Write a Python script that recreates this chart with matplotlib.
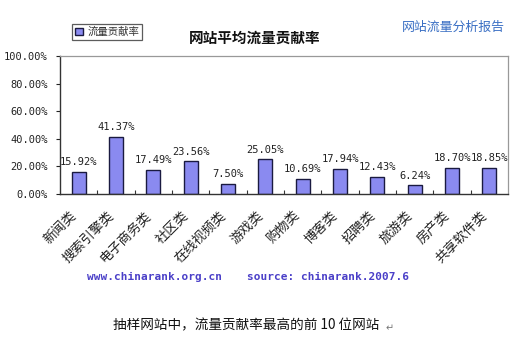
import matplotlib
matplotlib.use("Agg")
import matplotlib.pyplot as plt
import matplotlib.transforms as mtransforms
from matplotlib.patches import Patch

plt.rcParams['font.family'] = ['Noto Sans CJK SC', 'DejaVu Sans']

categories = ["新闻类", "搜索引擎类", "电子商务类", "社区类", "在线视频类", "游戏类",
              "购物类", "博客类", "招聘类", "旅游类", "房产类", "共享软件类"]
values = [15.92, 41.37, 17.49, 23.56, 7.50, 25.05, 10.69, 17.94, 12.43, 6.24, 18.70, 18.85]
y_ticks = [0, 20, 40, 60, 80, 100]

bar_color = "#8a8af0"
edge_color = "#1a1a40"
mono = ['DejaVu Sans Mono', 'Noto Sans CJK SC']

fig = plt.figure(figsize=(5.32, 3.45), dpi=100)
ax = fig.add_axes([60 / 532, 1 - 194 / 345, (508 - 60) / 532, (194 - 56) / 345])

x = list(range(len(categories)))
bars = ax.bar(x, values, width=0.38, color=bar_color, edgecolor=edge_color, linewidth=1.0)

ax.set_xlim(-0.5, len(categories) - 0.5)
ax.set_ylim(0, 100)
ax.set_yticks(y_ticks)
ax.set_yticklabels([f"{v:.2f}%" for v in y_ticks], family=mono, fontsize=7.5)
ax.tick_params(axis='y', direction='out', length=3, width=0.8, pad=6, colors='#222222')

# category tick marks sit between bars, pointing inward
ax.set_xticks([i + 0.5 for i in x[:-1]], minor=True)
ax.set_xticks(x)
ax.set_xticklabels(categories, rotation=45, ha='right', rotation_mode='anchor',
                   fontsize=9.5, color='#222222')
ax.tick_params(axis='x', which='major', length=0, pad=11)
ax.tick_params(axis='x', which='minor', direction='in', length=3, width=0.8, color='#333333')
shift = mtransforms.ScaledTranslation(-9 / 100, 0, fig.dpi_scale_trans)
for lbl in ax.get_xticklabels():
    lbl.set_transform(lbl.get_transform() + shift)

for side in ('top', 'right'):
    ax.spines[side].set_color('#999999')
    ax.spines[side].set_linewidth(0.9)
for side in ('left', 'bottom'):
    ax.spines[side].set_color('#333333')
    ax.spines[side].set_linewidth(1.0)

for xi, v in zip(x, values):
    ax.text(xi, v + 3.5, f"{v:.2f}%", ha='center', va='bottom',
            family=mono, fontsize=7.5, color='#222222')

fig.text(255 / 532, 1 - 38 / 345, "网站平均流量贡献率", ha='center', va='center',
         fontsize=10.5, fontweight='bold', color='#111111')
fig.text(453 / 532, 1 - 27 / 345, "网站流量分析报告", ha='center', va='center',
         fontsize=9.3, color='#3a6fc4')

leg = fig.legend(handles=[Patch(facecolor=bar_color, edgecolor=edge_color, label="流量贡献率")],
                 loc='center', bbox_to_anchor=(107 / 532, 1 - 32 / 345),
                 fontsize=7.5, frameon=True, fancybox=False, handlelength=0.8,
                 handleheight=0.8, handletextpad=0.4, borderpad=0.3, borderaxespad=0)
leg.get_frame().set_edgecolor('#333333')
leg.get_frame().set_linewidth(0.9)
for t in leg.get_texts():
    t.set_color('#333333')
    t.set_fontstyle('italic')

fig.text(87 / 532, 1 - 277 / 345, "www.chinarank.org.cn", ha='left', va='center',
         family=mono, fontsize=8, fontweight='bold', color='#4a3fc8')
fig.text(247 / 532, 1 - 277 / 345, "source: chinarank.2007.6", ha='left', va='center',
         family=mono, fontsize=8, fontweight='bold', color='#4a3fc8')

fig.text(113 / 532, 1 - 325 / 345, "抽样网站中，流量贡献率最高的前 10 位网站", ha='left', va='center',
         fontsize=9.8, color='#111111')
fig.text(386 / 532, 1 - 328 / 345, "↵", ha='left', va='center',
         family=['DejaVu Sans'], fontsize=7, color='#777777')

fig.savefig("out.png", dpi=100, facecolor='white')
